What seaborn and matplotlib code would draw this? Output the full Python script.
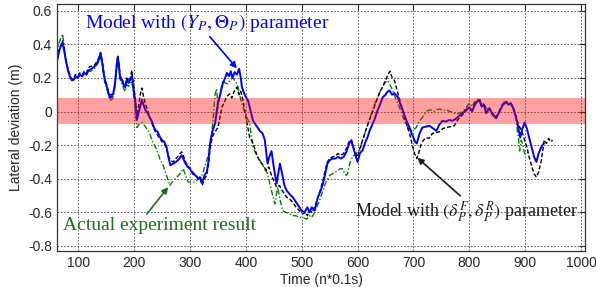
import matplotlib
matplotlib.use("Agg")
import matplotlib.pyplot as plt
import seaborn as sns
import pandas as pd

# blue solid: model with (Y_P, Theta_P)
t_blue = [62, 66, 70, 72, 75, 78, 82, 86, 89, 92, 95, 99, 103, 107, 111, 115, 118, 122, 126, 130,
          134, 137, 140, 143, 146, 148, 151, 154, 157, 160, 163, 166, 169, 171, 173, 175, 178, 181, 184, 187,
          190, 193, 196, 199, 202, 205, 208, 211, 214, 217, 220, 224, 228, 232, 235, 238, 242, 246, 250, 254,
          258, 262, 265, 270, 275, 280, 285, 288, 292, 296, 300, 305, 310, 315, 318, 322, 326, 330, 333, 336,
          340, 345, 350, 354, 359, 363, 366, 370, 373, 376, 380, 384, 388, 391, 393, 398, 404, 408, 413, 418,
          425, 430, 434, 437, 439, 442, 446, 450, 455, 458, 461, 465, 469, 473, 478, 484, 488, 492, 496, 500,
          505, 510, 514, 518, 523, 526, 529, 534, 538, 542, 546, 550, 555, 560, 565, 570, 575, 580, 585, 589,
          593, 597, 600, 604, 609, 613, 618, 622, 626, 630, 635, 640, 645, 650, 654, 657, 662, 666, 672, 676,
          681, 687, 693, 698, 703, 706, 711, 716, 722, 729, 735, 741, 746, 752, 758, 764, 770, 777, 782, 788,
          794, 800, 805, 810, 814, 818, 822, 826, 830, 836, 842, 848, 854, 860, 866, 870, 874, 878, 884, 888,
          891, 895, 899, 903, 907, 912, 916, 920, 924, 929, 933]
v_blue = [0.30, 0.36, 0.40, 0.41, 0.36, 0.30, 0.24, 0.20, 0.185, 0.19, 0.21, 0.20, 0.22, 0.21, 0.23, 0.22, 0.245, 0.25, 0.26, 0.27,
          0.29, 0.31, 0.35, 0.29, 0.22, 0.185, 0.15, 0.11, 0.08, 0.09, 0.11, 0.17, 0.28, 0.325, 0.27, 0.20, 0.19, 0.16, 0.145, 0.19,
          0.17, 0.19, 0.21, 0.13, 0.065, -0.05, -0.01, 0.03, 0.07, 0.04, 0.01, -0.01, -0.035, -0.06, -0.09, -0.11, -0.12, -0.15, -0.17, -0.18,
          -0.21, -0.28, -0.32, -0.31, -0.30, -0.285, -0.26, -0.28, -0.31, -0.33, -0.34, -0.37, -0.38, -0.40, -0.39, -0.42, -0.38, -0.36, -0.30, -0.19,
          -0.12, -0.07, 0.05, 0.10, 0.17, 0.20, 0.23, 0.21, 0.24, 0.20, 0.235, 0.22, 0.255, 0.20, 0.145, 0.10, 0.065, 0.01, -0.055, -0.08,
          -0.115, -0.13, -0.17, -0.26, -0.31, -0.27, -0.235, -0.33, -0.43, -0.37, -0.31, -0.37, -0.44, -0.47, -0.49, -0.51, -0.53, -0.55, -0.57, -0.59,
          -0.60, -0.57, -0.60, -0.57, -0.59, -0.55, -0.51, -0.47, -0.43, -0.37, -0.31, -0.29, -0.28, -0.28, -0.27, -0.28, -0.27, -0.24, -0.19, -0.17,
          -0.22, -0.27, -0.30, -0.25, -0.23, -0.19, -0.15, -0.11, -0.08, -0.05, 0.00, 0.04, 0.085, 0.10, 0.12, 0.125, 0.10, 0.11, 0.085, 0.05,
          0.005, -0.05, -0.095, -0.14, -0.18, -0.19, -0.13, -0.095, -0.09, -0.085, -0.10, -0.115, -0.08, -0.055, -0.06, -0.05, -0.055, -0.04, -0.025, -0.01,
          0.01, 0.025, 0.00, 0.04, 0.06, 0.065, 0.03, 0.04, -0.01, 0.02, -0.02, -0.04, 0.00, 0.04, 0.055, 0.04, 0.05, 0.025, -0.04, -0.10,
          -0.155, -0.10, -0.065, -0.10, -0.155, -0.22, -0.27, -0.30, -0.25, -0.21, -0.19]

# black dashed: model with (delta_P^F, delta_P^R)
t_black = [62, 66, 70, 72, 75, 78, 82, 86, 89, 92, 95, 99, 103, 107, 111, 115, 118, 122, 126, 130,
           134, 137, 140, 143, 146, 148, 151, 154, 157, 160, 163, 166, 169, 171, 173, 175, 178, 181, 184, 187,
           190, 193, 196, 199, 202, 205, 208, 211, 214, 217, 220, 224, 228, 232, 235, 238, 242, 246, 250, 254,
           258, 262, 265, 270, 275, 280, 285, 288, 292, 296, 300, 305, 310, 315, 318, 322, 326, 330, 333, 336,
           340, 345, 350, 354, 357, 362, 366, 371, 375, 379, 384, 388, 391, 395, 400, 404, 407, 412, 416, 421,
           426, 431, 437, 441, 446, 451, 455, 460, 465, 469, 473, 478, 484, 490, 496, 502, 507, 510, 514, 519,
           524, 529, 534, 538, 542, 546, 550, 555, 560, 565, 570, 575, 580, 586, 590, 595, 600, 604, 609, 615,
           621, 627, 634, 640, 644, 648, 652, 655, 658, 662, 666, 669, 672, 678, 684, 688, 693, 698, 702, 706,
           710, 714, 718, 723, 728, 734, 741, 747, 753, 759, 766, 773, 779, 785, 790, 796, 800, 805, 810, 814,
           818, 822, 826, 830, 836, 842, 848, 854, 860, 866, 870, 874, 878, 884, 888, 893, 898, 903, 907, 912,
           916, 920, 924, 929, 932, 934, 938, 942, 946, 949]
v_black = [0.31, 0.37, 0.40, 0.42, 0.37, 0.31, 0.25, 0.21, 0.19, 0.20, 0.22, 0.21, 0.23, 0.22, 0.24, 0.23, 0.26, 0.27, 0.27, 0.28,
           0.30, 0.32, 0.35, 0.30, 0.23, 0.19, 0.16, 0.12, 0.10, 0.10, 0.12, 0.18, 0.29, 0.335, 0.28, 0.21, 0.20, 0.17, 0.155, 0.20,
           0.18, 0.20, 0.245, 0.16, 0.08, -0.02, 0.03, 0.10, 0.14, 0.09, 0.05, 0.01, -0.03, -0.07, -0.10, -0.12, -0.14, -0.16, -0.18, -0.19,
           -0.22, -0.27, -0.29, -0.30, -0.28, -0.26, -0.24, -0.26, -0.30, -0.32, -0.34, -0.36, -0.38, -0.40, -0.40, -0.44, -0.40, -0.38, -0.32, -0.22,
           -0.15, -0.12, -0.095, -0.03, 0.025, 0.06, 0.09, 0.105, 0.08, 0.12, 0.145, 0.10, 0.12, 0.065, -0.03, -0.10, -0.155, -0.18, -0.22, -0.27,
           -0.30, -0.32, -0.35, -0.33, -0.38, -0.42, -0.45, -0.44, -0.47, -0.49, -0.51, -0.52, -0.54, -0.57, -0.59, -0.61, -0.60, -0.62, -0.59, -0.60,
           -0.56, -0.51, -0.46, -0.41, -0.35, -0.30, -0.28, -0.27, -0.265, -0.25, -0.26, -0.25, -0.22, -0.17, -0.19, -0.24, -0.27, -0.22, -0.17, -0.11,
           -0.05, 0.00, 0.065, 0.12, 0.14, 0.17, 0.20, 0.225, 0.24, 0.20, 0.185, 0.15, 0.11, 0.04, -0.035, -0.08, -0.13, -0.20, -0.25, -0.28,
           -0.24, -0.19, -0.17, -0.155, -0.16, -0.13, -0.125, -0.12, -0.10, -0.095, -0.09, -0.085, -0.05, -0.03, -0.01, 0.01, 0.02, 0.01, 0.05, 0.06,
           0.07, 0.035, 0.045, -0.005, 0.02, -0.02, -0.035, 0.005, 0.045, 0.06, 0.045, 0.05, 0.03, -0.03, -0.08, -0.11, -0.16, -0.21, -0.27, -0.33,
           -0.37, -0.39, -0.36, -0.29, -0.22, -0.17, -0.19, -0.16, -0.18, -0.17]

# green dash-dot: actual experiment result
t_green = [62, 65, 68, 72, 75, 78, 82, 86, 89, 92, 95, 99, 103, 107, 111, 115, 118, 122, 126, 130,
           134, 137, 140, 143, 146, 148, 151, 154, 157, 160, 163, 166, 169, 171, 173, 175, 178, 181, 184, 187,
           190, 193, 196, 199, 202, 205, 208, 211, 214, 218, 222, 225, 229, 232, 235, 238, 242, 247, 251, 255,
           259, 264, 268, 272, 277, 282, 288, 292, 297, 302, 307, 312, 317, 323, 327, 332, 336, 339, 342, 345,
           348, 350, 353, 356, 359, 363, 368, 372, 377, 381, 384, 388, 391, 395, 400, 404, 407, 410, 413, 418,
           425, 430, 435, 439, 443, 448, 452, 457, 461, 466, 472, 479, 485, 490, 496, 502, 509, 514, 518, 523,
           528, 532, 537, 541, 545, 550, 555, 560, 565, 569, 573, 577, 580, 582, 586, 591, 597, 604, 608, 613,
           619, 625, 630, 636, 642, 648, 654, 658, 663, 669, 675, 680, 684, 689, 693, 699, 705, 710, 716, 721,
           725, 731, 737, 741, 747, 753, 759, 765, 771, 776, 782, 788, 794, 800, 805, 810, 814, 818, 822, 826,
           830, 836, 842, 848, 854, 858, 862, 866, 870, 875, 880, 884, 886, 888, 890, 893, 896, 899, 903, 907]
v_green = [0.34, 0.40, 0.43, 0.46, 0.39, 0.30, 0.24, 0.20, 0.19, 0.19, 0.20, 0.20, 0.22, 0.21, 0.22, 0.22, 0.24, 0.24, 0.25, 0.26,
           0.28, 0.30, 0.33, 0.27, 0.20, 0.17, 0.14, 0.10, 0.07, 0.07, 0.09, 0.15, 0.26, 0.30, 0.25, 0.19, 0.17, 0.14, 0.12, 0.16,
           0.15, 0.17, 0.18, 0.10, 0.02, -0.095, -0.08, -0.07, -0.065, -0.08, -0.10, -0.11, -0.14, -0.17, -0.19, -0.21, -0.24, -0.29, -0.31, -0.35,
           -0.39, -0.44, -0.42, -0.41, -0.39, -0.37, -0.34, -0.38, -0.42, -0.42, -0.42, -0.41, -0.40, -0.37, -0.32, -0.27, -0.20, -0.13, -0.02, 0.105,
           0.135, 0.02, 0.08, 0.14, 0.185, 0.17, 0.165, 0.19, 0.20, 0.18, 0.165, 0.12, 0.07, 0.025, -0.02, -0.05, -0.07, -0.15, -0.21, -0.25,
           -0.29, -0.32, -0.35, -0.37, -0.43, -0.50, -0.55, -0.45, -0.52, -0.59, -0.60, -0.61, -0.62, -0.62, -0.63, -0.63, -0.64, -0.62, -0.63, -0.60,
           -0.56, -0.53, -0.48, -0.44, -0.41, -0.38, -0.37, -0.36, -0.35, -0.34, -0.34, -0.37, -0.38, -0.37, -0.31, -0.27, -0.25, -0.23, -0.18, -0.13,
           -0.07, -0.01, 0.04, 0.085, 0.13, 0.17, 0.185, 0.16, 0.125, 0.07, 0.025, -0.02, -0.055, -0.09, -0.115, -0.11, -0.095, -0.06, -0.035, -0.01,
           0.005, 0.01, 0.0, 0.01, 0.015, 0.005, 0.01, 0.0, -0.005, -0.015, -0.01, 0.0, 0.02, 0.05, 0.03, 0.06, 0.07, 0.08, 0.04, 0.05,
           0.02, 0.01, -0.01, -0.035, 0.00, 0.04, 0.055, 0.06, 0.05, 0.045, 0.01, -0.04, -0.115, -0.16, -0.235, -0.17, -0.20, -0.25, -0.24, -0.25]

x_ticks = [100, 200, 300, 400, 500, 600, 700, 800, 900, 1000]
y_ticks = [-0.8, -0.6, -0.4, -0.2, 0, 0.2, 0.4, 0.6]
y_tick_labels = ["-0.8", "-0.6", "-0.4", "-0.2", "0", "0.2", "0.4", "0.6"]
band_low, band_high = -0.075, 0.078

sns.set_style("white")
plt.rcParams["font.family"] = ["Liberation Sans", "DejaVu Sans"]
plt.rcParams["mathtext.fontset"] = "stix"

fig = plt.figure(figsize=(5.96, 2.87), dpi=100)
ax = fig.add_axes([0.0956, 0.1254, 0.8859, 0.8606])

sns.lineplot(x=t_green, y=v_green, ax=ax, color="#008000", linewidth=1.0, estimator=None, sort=False,
             linestyle=(0, (4, 1.5, 1, 1.5)))
sns.lineplot(x=t_black, y=v_black, ax=ax, color="black", linewidth=1.0, estimator=None, sort=False,
             linestyle=(0, (3, 1.5)))
sns.lineplot(x=t_blue, y=v_blue, ax=ax, color="#0000ff", linewidth=1.4, estimator=None, sort=False)

ax.axhspan(band_low, band_high, color="#ff0000", alpha=0.37, linewidth=0, zorder=5)

ax.set_xlim(62, 1007)
ax.set_ylim(-0.83, 0.64)
ax.set_xticks(x_ticks)
ax.set_yticks(y_ticks)
ax.set_yticklabels(y_tick_labels)
ax.tick_params(direction="in", top=True, right=True, labelsize=10, length=4, width=0.8)
ax.grid(True, linestyle=(0, (2, 2)), color="#444444", linewidth=0.6)
for s in ax.spines.values():
    s.set_color("#333333")
    s.set_linewidth(0.9)

ax.set_xlabel("Time (n*0.1s)", fontsize=10, labelpad=2)
ax.set_ylabel("Lateral deviation (m)", fontsize=10, labelpad=4)

serif = ["Liberation Serif", "DejaVu Serif"]
ax.annotate(r"Model with $(Y_P,\Theta_P)$ parameter", xy=(384, 0.257), xytext=(112, 0.53),
            color="#0000ff", fontsize=14, family=serif, va="center", ha="left", zorder=10,
            arrowprops=dict(arrowstyle="-|>", color="#0000ff", lw=1.2, shrinkA=0, shrinkB=0,
                        mutation_scale=9, relpos=(0.5, 0.0)))
ax.annotate("Actual experiment result", xy=(261, -0.45), xytext=(73, -0.68),
            color="#1a6e1a", fontsize=14, family=serif, va="center", ha="left", zorder=10,
            arrowprops=dict(arrowstyle="-|>", color="#1a6e1a", lw=1.2, shrinkA=0, shrinkB=0,
                        mutation_scale=9, relpos=(0.42, 1.0)))
ax.annotate(r"Model with $(\delta_P^F,\delta_P^R)$ parameter", xy=(707, -0.275), xytext=(595, -0.595),
            color="#1a1a1a", fontsize=13, family=serif, va="center", ha="left", zorder=10,
            arrowprops=dict(arrowstyle="-|>", color="#1a1a1a", lw=1.2, shrinkA=0, shrinkB=0,
                        mutation_scale=9, relpos=(0.49, 1.0)))

plt.savefig("out.png", dpi=100)
plt.close()
